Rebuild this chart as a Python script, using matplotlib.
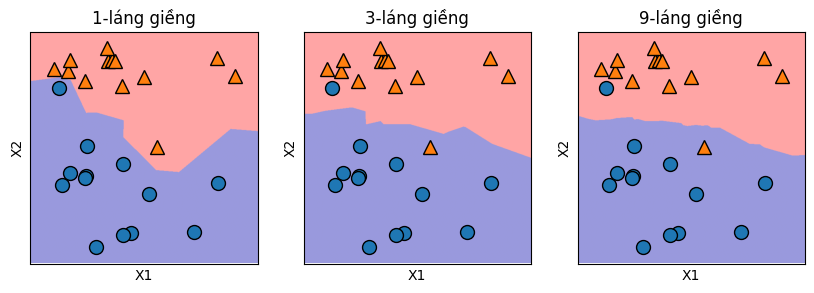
import numpy as np
import matplotlib
matplotlib.use("Agg")
import matplotlib.pyplot as plt
from matplotlib.colors import ListedColormap

# forge dataset
x1 = [9.96346605, 11.0329545, 11.54155807, 8.69289001, 8.1062269, 8.30988863,
      11.93027136, 9.67284681, 8.34810316, 8.67494727, 9.17748385, 10.24028948,
      8.68937095, 8.92229526, 9.49123469, 9.25694192, 7.99815287, 8.18378052,
      8.7337095, 9.32298256, 10.06393839, 9.50048972, 8.34468785, 9.50169345,
      9.15072323, 11.563957]
x2 = [4.59676542, -0.16816717, 5.21116083, 1.54322016, 4.28695977, 4.80623966,
      4.64866327, -0.20283165, 5.13415623, 4.47573059, 5.09283177, 2.45544401,
      1.48709629, -0.63993225, 4.33224792, 5.13284858, 4.8525051, 1.29564214,
      2.49162431, 5.09840649, 0.99078055, -0.26430318, 1.63824349, 1.93824624,
      5.49832246, 1.3389402]
labels = [1, 0, 1, 0, 0, 1, 1, 0, 1, 1, 1, 1, 0, 0, 1, 1, 1, 0, 0, 1, 0, 0, 0, 0, 1, 0]
neighbors = [1, 3, 9]
titles = ["1-láng giềng", "3-láng giềng", "9-láng giềng"]

X = np.column_stack([x1, x2])
y = np.array(labels)

def knn_predict(Xtr, ytr, Xq, k):
    out = np.empty(len(Xq), dtype=int)
    step = 50000
    for s in range(0, len(Xq), step):
        q = Xq[s:s + step]
        d = ((q[:, None, :] - Xtr[None, :, :]) ** 2).sum(-1)
        idx = np.argsort(d, axis=1, kind="stable")[:, :k]
        votes = ytr[idx].mean(axis=1)
        out[s:s + step] = (votes > 0.5).astype(int)
    return out

cm2 = ListedColormap(['#0000aa', '#ff2020'])
eps = 0.5
x_min, x_max = X[:, 0].min() - eps, X[:, 0].max() + eps
y_min, y_max = X[:, 1].min() - eps, X[:, 1].max() + eps
xx = np.linspace(x_min, x_max, 600)
yy = np.linspace(y_min, y_max, 600)
X1, X2 = np.meshgrid(xx, yy)
grid = np.c_[X1.ravel(), X2.ravel()]

fig = plt.figure(figsize=(8.14, 2.93), dpi=100)
lefts = [30.5 / 814, 303.5 / 814, 577.5 / 814]
w = 227.5 / 814
b = (293 - 263.5) / 293
h = 231.5 / 293

for left, k, title in zip(lefts, neighbors, titles):
    ax = fig.add_axes([left, b, w, h])
    pred = knn_predict(X, y, grid, k)
    ax.imshow(pred.reshape(X1.shape), extent=(x_min, x_max, y_min, y_max),
              aspect='auto', origin='lower', alpha=0.4, cmap=cm2)
    for cls, marker, color in [(0, 'o', '#1f77b4'), (1, '^', '#ff7f0e')]:
        m = y == cls
        ax.plot(X[m, 0], X[m, 1], marker, color=color, markersize=10,
                markeredgecolor='k', markeredgewidth=1, linestyle='none')
    ax.set_xlim(x_min, x_max)
    ax.set_ylim(y_min, y_max)
    ax.set_xticks(())
    ax.set_yticks(())
    ax.set_title(title, fontsize=12)
    ax.set_xlabel("X1")
    ax.set_ylabel("X2")

fig.savefig("out.png", dpi=100)
